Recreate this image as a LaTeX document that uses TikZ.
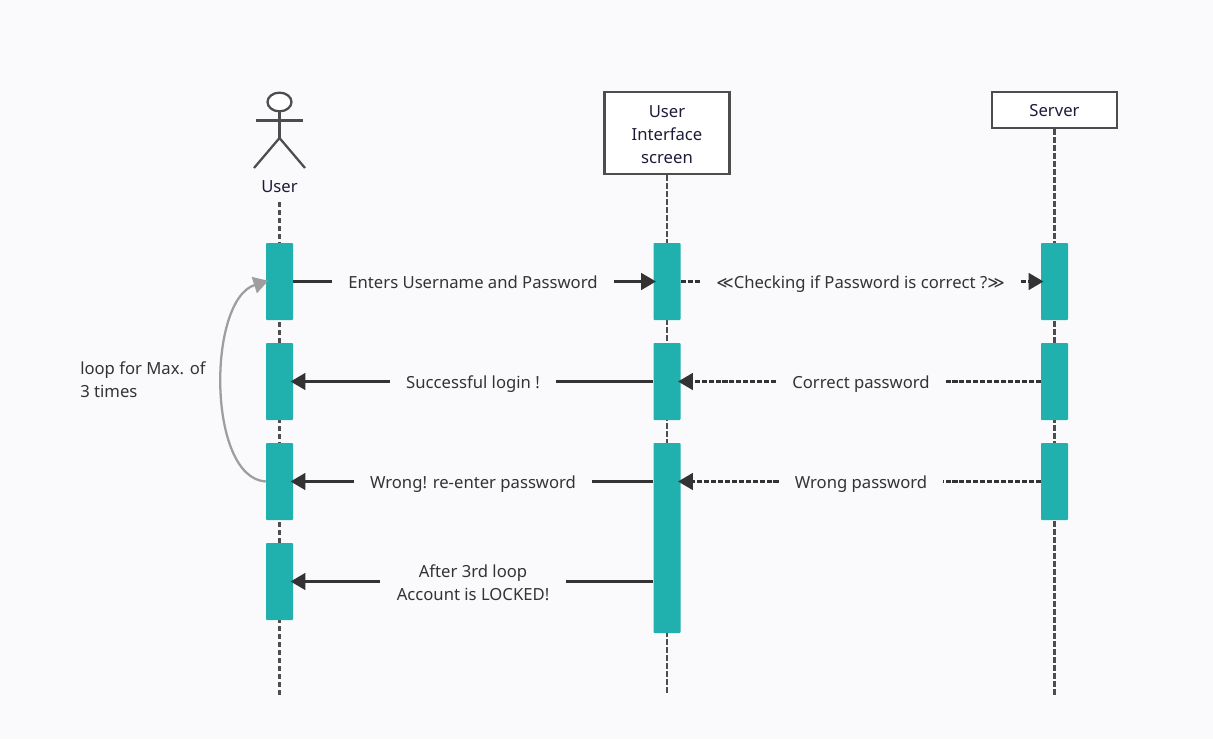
\documentclass[tikz,border=0pt]{standalone}
\usepackage{fontspec}
\setmainfont{Noto Sans}
\newfontfamily\symfont{DejaVu Sans}
\usetikzlibrary{arrows.meta,shapes.geometric}
\definecolor{pagebg}{HTML}{FAFAFC}
\definecolor{barteal}{HTML}{20B0AE}
\definecolor{inkdark}{HTML}{333333}
\definecolor{linegray}{HTML}{4D4D4D}
\definecolor{loopgray}{HTML}{9E9E9E}
\definecolor{headink}{HTML}{1C1C3A}
\begin{document}
\begin{tikzpicture}[x=0.75pt,y=-0.75pt,
  headbox/.style={draw=linegray,line width=1.8pt,fill=white,inner sep=0pt,minimum width=94pt,
    align=center,text=headink,font=\fontsize{12.5}{17.25}\selectfont},
  stick/.style={draw=linegray,line width=1.7pt},
  lifeline/.style={draw=linegray,line width=1.7pt,dash pattern=on 4pt off 2pt},
  activebar/.style={fill=barteal,inner sep=0pt,minimum width=20.25pt,minimum height=57.75pt,rounded corners=0.7pt},
  msglabel/.style={text=inkdark,inner xsep=12pt,inner ysep=0pt,align=center,
    text height=12pt,text depth=2pt,font=\fontsize{12.5}{17.25}\selectfont},
  msgline/.style={draw=inkdark,line width=1.6pt},
  msgdash/.style={msgline,dash pattern=on 3.8pt off 1.4pt},
  tip/.style={-{Triangle[length=11pt,width=12.5pt]},shorten >=-2pt}]
  \fill[pagebg] (0,0) rectangle (1213,739);

  % actor
  \node[stick,ellipse,fill=white,inner sep=0pt,minimum width=18pt,minimum height=14pt] (head) at (279.5,102) {};
  \coordinate (neck) at (279.5,138);
  \coordinate (armL) at (256,120.5);
  \coordinate (armR) at (303,120.5);
  \coordinate (legL) at (254,168);
  \coordinate (legR) at (305,168);
  \draw[stick] (head.south) -- (neck);
  \draw[stick] (armL) -- (armR);
  \draw[stick] (legL) -- (neck) -- (legR);
  \node[text=headink,inner sep=0pt,font=\fontsize{12.5}{17.25}\selectfont] (user) at (279.5,186.7) {User};

  % heads
  \node[headbox,minimum height=61.5pt] (ui) at (667,133) {\rule{0pt}{11pt}User\\Interface\\screen};
  \node[headbox,minimum height=27pt,text height=12pt,text depth=2pt] (server) at (1054.5,110) {Server};

  % lifelines
  \coordinate (userend) at (279.5,695);
  \coordinate (uiend) at (667,695);
  \coordinate (serverend) at (1054.5,695);
  \draw[lifeline] (user.south) ++(0,9) -- (userend);
  \draw[lifeline] (ui.south) -- (uiend);
  \draw[lifeline] (server.south) -- (serverend);

  % bars
  \node[activebar] (ubar1) at (279.5,281.5) {};
  \node[activebar] (ubar2) at (279.5,381.5) {};
  \node[activebar] (ubar3) at (279.5,481.5) {};
  \node[activebar] (ubar4) at (279.5,581.5) {};
  \node[activebar] (mbar1) at (667,281.5) {};
  \node[activebar] (mbar2) at (667,381.5) {};
  \node[activebar,minimum height=142.5pt] (mbar3) at (667,538) {};
  \node[activebar] (sbar1) at (1054.5,281.5) {};
  \node[activebar] (sbar2) at (1054.5,381.5) {};
  \node[activebar] (sbar3) at (1054.5,481.5) {};

  % messages
  \node[msglabel] (enter) at (473,281.5) {Enters Username and Password};
  \draw[msgline] (ubar1.east |- enter.west) -- (enter.west);
  \draw[msgline,tip] (enter.east) -- (mbar1.west |- enter.east);

  \node[msglabel] (check) at (860.5,281.5) {{\symfont ≪}Checking if Password is correct ?{\symfont ≫}};
  \draw[msgdash] (mbar1.east |- check.west) -- (check.west);
  \draw[msgdash,tip] (check.east) -- (sbar1.west |- check.east);

  \node[msglabel] (login) at (473,381.5) {Successful login !};
  \draw[msgline] (mbar2.west |- login.east) -- (login.east);
  \draw[msgline,tip] (login.west) -- (ubar2.east |- login.west);

  \node[msglabel] (correct) at (861,381.5) {Correct password};
  \draw[msgdash] (sbar2.west |- correct.east) -- (correct.east);
  \draw[msgdash,tip] (correct.west) -- (mbar2.east |- correct.west);

  \node[msglabel] (reenter) at (473,481.5) {Wrong! re-enter password};
  \draw[msgline] (mbar3.west |- reenter.east) -- (reenter.east);
  \draw[msgline,tip] (reenter.west) -- (ubar3.east |- reenter.west);

  \node[msglabel] (wrong) at (861,481.5) {Wrong password};
  \draw[msgdash] (sbar3.west |- wrong.east) -- (wrong.east);
  \draw[msgdash,tip] (wrong.west) -- (mbar3.east |- wrong.west);

  \node[msglabel,text height=,text depth=] (locked) at (473,582.8) {After 3rd loop\\Account is LOCKED!};
  \draw[msgline] (mbar3.west |- ubar4.east) -- (locked.east |- ubar4.east);
  \draw[msgline,tip] (locked.west |- ubar4.east) -- (ubar4.east);

  % loop
  \draw[draw=loopgray,line width=1.7pt,-{Triangle[length=11pt,width=12.5pt]},shorten >=-2pt]
    (ubar3.west) .. controls (207,478) and (207,300) .. (ubar1.west);
  \node[anchor=west,text=inkdark,inner sep=0pt,align=left,font=\fontsize{12.5}{17.25}\selectfont] (looptxt) at (80,380) {loop for Max. of\\3 times};
\end{tikzpicture}
\end{document}
